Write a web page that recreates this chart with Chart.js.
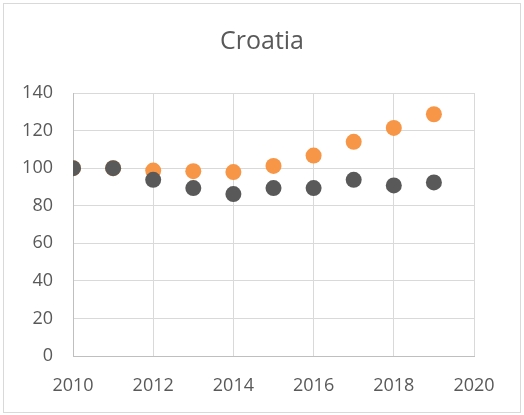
<!DOCTYPE html>
<html>
<head>
<meta charset="utf-8">
<script src="https://cdn.jsdelivr.net/npm/chart.js@4"></script>
<style>
  html, body { margin: 0; padding: 0; background: #fff; }
  #wrap { width: 524px; height: 415px; position: relative; }
</style>
</head>
<body>
<div id="wrap"><canvas id="myChart" width="524" height="415"></canvas></div>
<script>
const years = [2010, 2011, 2012, 2013, 2014, 2015, 2016, 2017, 2018, 2019];
const grayValues = [100, 100, 93.8, 89.4, 86.2, 89.4, 89.4, 93.8, 90.8, 92.4];
const orangeValues = [100, 100, 98.7, 98.4, 97.9, 101.2, 106.7, 114, 121.4, 128.7];
const xTicks = [2010, 2012, 2014, 2016, 2018, 2020];
const yTicks = [0, 20, 40, 60, 80, 100, 120, 140];

const toPoints = vals => years.map((y, i) => ({ x: y, y: vals[i] }));

const frame = {
    id: 'frame',
    beforeDraw(chart) {
        const c = chart.ctx;
        c.save();
        c.fillStyle = '#fff';
        c.fillRect(0, 0, chart.width, chart.height);
        c.strokeStyle = '#d9d9d9';
        c.lineWidth = 1;
        c.strokeRect(3.5, 3.5, 517, 409);
        c.restore();
    }
};

window.onload = function renderChart() {
    const ctx = document.getElementById('myChart').getContext('2d');
    Chart.defaults.font.family = '"Open Sans", sans-serif';

    new Chart(ctx, {
        type: 'scatter',
        data: {
            datasets: [{
                label: 'gray',
                data: toPoints(grayValues),
                backgroundColor: '#595959',
                borderWidth: 0,
                pointRadius: 8,
                pointHoverRadius: 8
            }, {
                label: 'orange',
                data: toPoints(orangeValues),
                backgroundColor: '#f79646',
                borderWidth: 0,
                pointRadius: 8,
                pointHoverRadius: 8
            }]
        },
        options: {
            responsive: false,
            animation: false,
            layout: { padding: 0 },
            plugins: {
                legend: { display: false },
                tooltip: { enabled: false },
                title: {
                    display: true,
                    text: 'Croatia',
                    color: '#595959',
                    font: { size: 25, weight: 'normal' },
                    padding: { top: 27, bottom: 36 }
                }
            },
            scales: {
                x: {
                    type: 'linear',
                    min: 2010,
                    max: 2020,
                    afterBuildTicks: axis => { axis.ticks = xTicks.map(v => ({ value: v })); },
                    afterFit: axis => { axis.height = 59; },
                    grid: { color: '#d9d9d9', drawTicks: false },
                    border: { color: '#bfbfbf' },
                    ticks: {
                        color: '#595959',
                        font: { size: 18 },
                        padding: 19,
                        callback: v => String(v)
                    }
                },
                y: {
                    min: 0,
                    max: 140,
                    afterBuildTicks: axis => { axis.ticks = yTicks.map(v => ({ value: v })); },
                    afterFit: axis => { axis.width = 73; },
                    grid: { color: '#d9d9d9', drawTicks: false },
                    border: { color: '#bfbfbf' },
                    ticks: {
                        color: '#595959',
                        font: { size: 18 },
                        padding: 20
                    }
                },
                // empty right-hand spacer so the title centres over the whole frame
                spacer: {
                    type: 'linear',
                    position: 'right',
                    afterFit: axis => { axis.width = 50; },
                    grid: { display: false },
                    border: { display: false },
                    ticks: { display: false }
                }
            }
        },
        plugins: [frame]
    });
};
</script>
</body>
</html>
